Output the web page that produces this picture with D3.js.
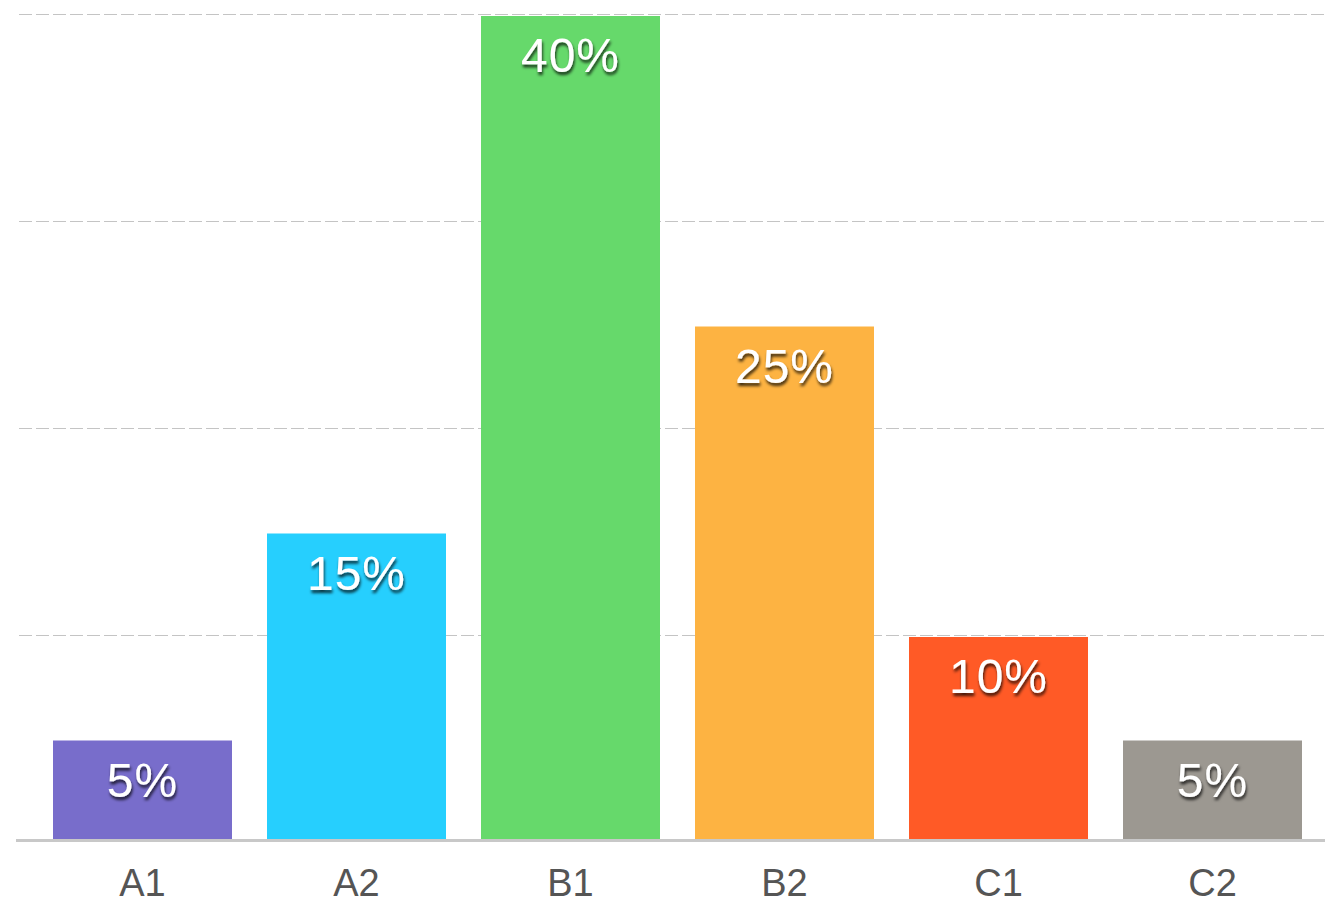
<!DOCTYPE html>
<html><head><meta charset="utf-8">
<script src="https://cdn.jsdelivr.net/npm/d3@7"></script>
<style>html,body{margin:0;padding:0;background:#fff;overflow:hidden}</style>
</head><body>
<svg id="chart" width="1325" height="905"></svg>
<script>
const categories = ["A1","A2","B1","B2","C1","C2"];
const values = [5, 15, 40, 25, 10, 5];
const valueLabels = ["5%","15%","40%","25%","10%","5%"];
const colors = ["#786dcb","#26cffe","#66d96b","#fdb342","#ff5a26","#9c9891"];
const gridTicks = [10, 20, 30, 40];

const svg = d3.select("#chart");
const defs = svg.append("defs");
const f = defs.append("filter").attr("id","ts").attr("x","-20%").attr("y","-20%").attr("width","140%").attr("height","160%");
f.append("feDropShadow").attr("dx",1).attr("dy",3).attr("stdDeviation",1.6)
  .attr("flood-color","#000").attr("flood-opacity",0.75);

const x = d3.scaleBand().domain(categories).range([16,1339]).paddingInner(0.1636).paddingOuter(0.1729);
const y = d3.scaleLinear().domain([0,40]).range([842,14]);

svg.append("g").selectAll("line").data(gridTicks).join("line")
  .attr("x1",19).attr("x2",1325)
  .attr("y1",d=>Math.round(y(d))+0.5).attr("y2",d=>Math.round(y(d))+0.5)
  .attr("stroke","#c4c4c4").attr("stroke-width",1).attr("stroke-dasharray","13,4");

svg.append("g").selectAll("rect").data(values).join("rect")
  .attr("x",(d,i)=>x(categories[i]))
  .attr("width",x.bandwidth())
  .attr("y",d=>y(d) + 2)
  .attr("height",d=>y(0)-y(d) - 2)
  .attr("fill",(d,i)=>colors[i]);

svg.append("line").attr("x1",16).attr("x2",1325).attr("y1",840.5).attr("y2",840.5)
  .attr("stroke","#c8c8c8").attr("stroke-width",3);

svg.append("g").selectAll("text").data(values).join("text")
  .attr("x",(d,i)=>x(categories[i])+x.bandwidth()/2)
  .attr("y",d=>y(d)+58)
  .attr("text-anchor","middle")
  .attr("font-family","Liberation Sans, Arial, sans-serif")
  .attr("font-size",48)
  .attr("letter-spacing",1)
  .attr("fill","#fff")
  .attr("filter","url(#ts)")
  .text((d,i)=>valueLabels[i]);

const xAxis = svg.append("g").attr("transform","translate(0,842)")
  .call(d3.axisBottom(x).tickSize(0).tickPadding(0));
xAxis.select(".domain").remove();
xAxis.selectAll("text")
  .attr("dy",0).attr("y",54)
  .attr("font-family","Liberation Sans, Arial, sans-serif")
  .attr("font-size",38)
  .attr("fill","#555");
</script>
</body></html>
